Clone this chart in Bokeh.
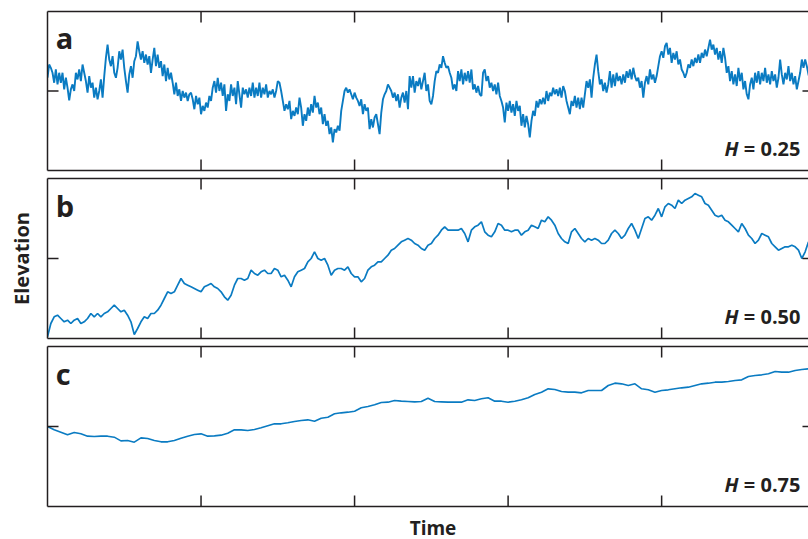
import numpy as np
from bokeh.plotting import figure
from bokeh.models import LinearAxis, FixedTicker, Label, Range1d
from bokeh.layouts import column
from bokeh.embed import file_html
from bokeh.resources import INLINE

# ---------------- data ----------------
# Elevation values, arbitrary units; the visible window is -240..240.
# Time in arbitrary units; visible window 0..2280, ticks every 460.
TIME_END = 2280
time_ticks = [460, 920, 1380, 1840]
elev_ticks = [0]

# sampling step (time units) of each trace
dt_a = 5
dt_b = 10
dt_c = 20

elev_a = [
    40, 80, 70, 55, 25, 65, 20, 55, 25, 55, 5, 40, 10, -28, 5, 20, 0, 55, 35, 65,
    30, 80, 55, 30, -5, 45, 10, 25, -20, 10, -25, 0, 35, -20, 45, 100, 140, 95, 75, 105,
    55, 40, 70, 120, 95, 125, 70, 30, -5, 50, 75, 40, 90, 105, 150, 120, 95, 120, 85, 110,
    80, 105, 55, 95, 130, 75, 110, 70, 90, 45, 80, 30, 70, 35, 55, 25, -10, 25, -15, 5,
    -30, 0, -20, -5, -30, -10, -5, -25, -55, -15, -40, -20, -70, -45, -60, -35, -50, -15, -30, 10,
    30, -5, 40, 0, 25, -15, 20, -60, -10, -30, 20, -15, 10, -40, 30, -10, -50, 10, -10, 5,
    -20, 10, -15, 25, -20, 10, -15, 25, -20, 10, -10, 20, -20, 0,
    -10, 5, -20, 0, 30, 25, 0, -30, -60, -40, -55, -30, -85, -60, -75, -50, -70, -20, -50, -105,
    -70, -90, -50, -75, -40, -65, -15, -50, -35, -70, -50, -100, -70, -105, -90, -130, -110, -155, -115, -125,
    -105, -120, -60, -30, 0, 10, -5, 5, -10, -25, -5, -20, -30, -45, -25, -70, -40, -60, -50, -115,
    -85, -110, -80, -70, -100, -130, -65, -25, -10, 0, 20, 10, 0, -20, -5, -30, -10, -50, -20, -5,
    -35, 0, -55, 45, 10, 45, -5, 30, 15, 40, 5, 30, 55, 0, 20, -30, -40, -15, 30, 60,
    55, 80, 70, 105, 85, 70, 75, 55, 40, 5, 20, 0, 60, 30, 65, 20, 55, 30, 60, 25,
    65, 5, 20, -5, 15, -10, -15, 55, 65, 30, 45, 10, 25, 0, 20, -10, 25, -15, -30, -50,
    -95, -35, -60, -30, -65, -40, -75, -30, -60, -45, -105, -70, -110, -75, -100, -140, -90, -60, -75, -30,
    -50, -25, -40,
    -20, -40, 0, -30, -5, -15, 10, -10, 5, -15, 10, -20, 15, 0, -30, -50, -70, -30, -45, -15,
    -50, -20, -55, -20, -50, -10, 30, 10, 35, -20, 40, 80, 110, 60, 20, 35, 0, 25, -5, 20,
    60, 10, 50, 15, 55, 30, 45, 20, 50, 25, 60, 40, 65, 35, 70, 45, 30, 40, 10, 30,
    -20, 25, 45, 20, 65, 35, 50, 25, 45, 75, 105, 120, 100, 135, 145, 110, 130, 85, 115, 95,
    120, 80, 95, 65, 55, 40, 55, 80, 70, 95, 75, 100, 85, 110, 85, 115, 100, 125, 105, 130,
    155, 125, 140, 110, 130, 95, 120, 85, 130, 100, 55, 75, 30, 60, 20, 50, 15, 70, 30, 55,
    5, 30, -10, -25, 20, 40, 5, 55, 25, 60, 20, 55, 30, 70, 25, 50, 20, 60, 30, 50,
    10, 40, 95, 50, 20, 55, 35, 75, 30, 55, 20, 45, 5, 30, 55, 95, 70, 95, 75, 50,
    30, 15,
]

elev_b = [
    -235, -195, -175, -170, -180, -190, -185, -195, -185, -180,
    -195, -190, -180, -165, -175, -165, -175, -165, -160, -150,
    -140, -150, -160, -155, -170, -190, -228, -210, -190, -175,
    -180, -165, -165, -155, -140, -120, -100, -105, -100, -80,
    -60, -75, -80, -85, -90, -95, -100, -85, -80, -75,
    -85, -90, -100, -115, -125, -110, -80, -60, -60, -65,
    -60, -35, -45, -50, -40, -35, -45, -45, -30, -35,
    -55, -50, -65, -85, -55, -40, -35, -30, -10, 0,
    20, 0, -5, 0, -20, -50, -35, -30, -30, -35,
    -25, -45, -55, -55, -70, -60, -35, -25, -20, -10,
    -10, 0, 10, 25, 30, 40, 50, 55, 60, 55,
    45, 40, 30, 25, 40, 45, 60, 70, 85, 95,
    85, 85, 85, 85, 90, 75, 50, 85, 95, 100,
    110, 80, 70, 65, 80, 105, 100, 85, 85, 80,
    85, 85, 70, 80, 85, 100, 95, 90, 115, 110,
    125, 115, 100, 75, 60, 50, 45, 80, 90, 75,
    60, 50, 60, 55, 60, 55, 45, 45, 55, 75,
    85, 75, 60, 70, 90, 105, 85, 60, 90, 120,
    125, 115, 130, 150, 125, 155, 165, 160, 150, 175,
    165, 175, 180, 185, 195, 190, 185, 165, 160, 145,
    130, 125, 130, 115, 110, 100, 90, 80, 105, 90,
    70, 60, 45, 55, 75, 70, 65, 45, 35, 25,
    30, 35, 35, 40, 35, 25, 0, 20, 50,
]

elev_c = [
    0, -10, -17, -25, -18, -22, -29, -30, -29, -29, -32, -43, -42, -47, -34, -36, -42,
    -46, -46, -42, -35, -29, -24, -22, -29, -28, -26, -20, -10, -10, -12, -9, -4, 2,
    8, 8, 11, 15, 18, 20, 16, 25, 28, 38, 41, 43, 46, 56, 60, 65, 72, 73, 78, 76,
    75, 74, 75, 85, 75, 74, 73, 73, 73, 80, 78, 83, 86, 76, 76, 73, 76, 80, 86, 96, 103,
    113, 111, 105, 103, 103, 101, 108, 108, 108, 123, 130, 128, 123, 128, 113, 110, 103,
    108, 110, 113, 116, 118, 123, 128, 130, 133, 133, 135, 138, 140, 150, 153, 155, 158,
    165, 163, 163, 168, 171, 173,
]

panel_letters = ["a", "b", "c"]
hurst_values = ["0.25", "0.50", "0.75"]
x_title = "Time"
y_title = "Elevation"

# ---------------- styling ----------------
FONT = "Open Sans"
INK = "#231F20"
BLUE = "#0A7BC2"
AXW = 1.5
Y_LO, Y_HI = -240, 240
TICK_X = 33   # inward tick length in time units (~11 px)
TICK_Y = 33   # inward tick length in elevation units (~11 px)
TICK_R = 18   # shorter right-hand tick (~6 px)


def frame_axis(p, place, label=None, standoff=0):
    ax = LinearAxis(ticker=FixedTicker(ticks=[]))
    ax.axis_line_color = INK
    ax.axis_line_width = AXW
    ax.major_tick_line_color = None
    ax.minor_tick_line_color = None
    ax.major_tick_out = 0
    ax.major_tick_in = 0
    if label:
        ax.axis_label = label
        ax.axis_label_text_font = FONT
        ax.axis_label_text_font_style = "bold"
        ax.axis_label_text_font_size = "20px"
        ax.axis_label_text_color = INK
        ax.axis_label_standoff = standoff
    p.add_layout(ax, place)
    return ax


def base_figure(height, top, bottom, y_lo, y_hi):
    p = figure(width=808, height=height,
               x_range=Range1d(0, TIME_END), y_range=Range1d(y_lo, y_hi),
               output_backend="svg", toolbar_location=None,
               x_axis_location=None, y_axis_location=None,
               min_border_left=47, min_border_right=0,
               min_border_top=top, min_border_bottom=bottom)
    p.grid.grid_line_color = None
    p.outline_line_color = None
    p.background_fill_color = "white"
    p.border_fill_color = "white"
    return p


def make_panel(elev, dt, letter, letter_drop, hurst, height, top, bottom, lw, ylabel=None):
    p = base_figure(height, top, bottom, Y_LO, Y_HI)

    t = np.arange(len(elev)) * dt
    p.line(t, elev, line_color=BLUE, line_width=lw)

    # frame lines (left, top, bottom; the right edge lies outside the window)
    frame_axis(p, "left", ylabel, 13)
    frame_axis(p, "above")
    frame_axis(p, "below")

    # inward tick marks
    n = len(time_ticks)
    tick_style = dict(line_color=INK, line_width=AXW, line_cap="butt")
    p.segment(x0=time_ticks, y0=[Y_HI] * n, x1=time_ticks, y1=[Y_HI - TICK_Y] * n, **tick_style)
    p.segment(x0=time_ticks, y0=[Y_LO] * n, x1=time_ticks, y1=[Y_LO + TICK_Y] * n, **tick_style)
    m = len(elev_ticks)
    p.segment(x0=[0] * m, y0=elev_ticks, x1=[TICK_X] * m, y1=elev_ticks, **tick_style)
    p.segment(x0=[TIME_END - TICK_R] * m, y0=elev_ticks, x1=[TIME_END] * m, y1=elev_ticks, **tick_style)

    p.add_layout(Label(x=25, y=Y_HI - 3 * letter_drop, text=letter,
                       text_font=FONT, text_font_style="bold", text_font_size="29px",
                       text_color=INK, text_baseline="alphabetic", text_align="left"))
    p.add_layout(Label(x=2070, y=-174, text="H",
                       text_font=FONT, text_font_style="bold italic", text_font_size="20px",
                       text_color=INK, text_baseline="alphabetic", text_align="right"))
    p.add_layout(Label(x=2256, y=-174, text="= " + hurst,
                       text_font=FONT, text_font_style="bold", text_font_size="20px",
                       text_color=INK, text_baseline="alphabetic", text_align="right"))
    return p


pa = make_panel(elev_a, dt_a, panel_letters[0], 26, hurst_values[0], 174, 11, 4, 1.9)
pb = make_panel(elev_b, dt_b, panel_letters[1], 27, hurst_values[1], 168, 4, 4, 1.7,
                ylabel=y_title)
pc = make_panel(elev_c, dt_c, panel_letters[2], 27, hurst_values[2], 168, 4, 4, 1.6)

# strip below the panels carrying the shared time-axis title
pt = base_figure(29, 0, 0, 0, 29)
pt.add_layout(Label(x=1155, y=12, text=x_title,
                    text_font=FONT, text_font_style="bold", text_font_size="19px",
                    text_color=INK, text_baseline="alphabetic", text_align="center"))

layout = column(pa, pb, pc, pt, spacing=0)

with open("out.html", "w") as f:
    f.write(file_html(layout, INLINE))
